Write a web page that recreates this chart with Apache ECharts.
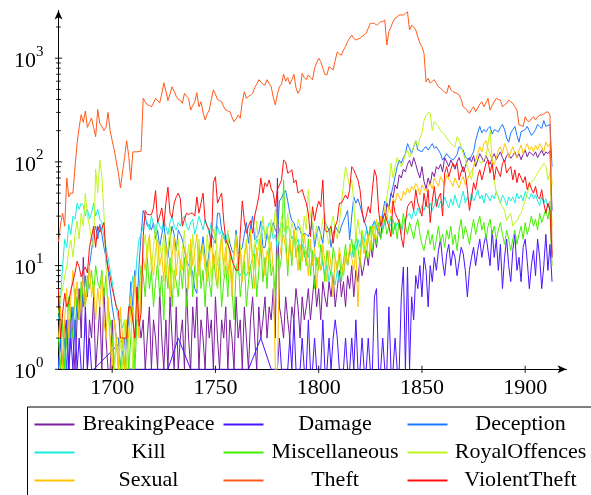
<!DOCTYPE html>
<html><head><meta charset="utf-8">
<script src="https://cdn.jsdelivr.net/npm/echarts@6/dist/echarts.min.js"></script>
<style>html,body{margin:0;padding:0;background:#fff}#c{width:591px;height:495px}</style>
</head><body><div id="c"></div>
<script>
const seriesNames = ['BreakingPeace','Damage','Deception','Kill','Miscellaneous','RoyalOffences','Sexual','Theft','ViolentTheft'];
const seriesColors = ['#7c1ea0','#4a14ff','#1a78ff','#1aeedd','#44ee00','#bef61e','#ffc400','#ff5a1a','#ff1010'];
const startYear = 1674;
const xTickValues = [1700,1750,1800,1850,1900];
const yTickValues = [1,10,100,1000];
const yMinorTickValues = [2,3,4,5,6,7,8,9,20,30,40,50,60,70,80,90,200,300,400,500,600,700,800,900,2000];

const breakingPeace = [
1,2,1,3,2,1,4,2,1,3,
6,2,12,4,1,3,2,5,1,2,
4,1,6,2,1,1,3,1,1,1,
1,1,1,1,1,1,1,2,3,3,
2,3,1,2,4,1,3,2,1,6,
2,1,3,1,5,2,1,4,1,2,
3,1,6,2,1,4,2,5,1,3,
2,1,4,2,3,1,5,2,1,3,
2,4,1,3,2,1,5,2,3,1,
4,2,1,3,5,2,1,4,2,3,
5,2,4,3,6,2,70,4,3,2,
5,3,2,4,3,6,4,2,5,3,
4,6,3,5,8,4,6,3,7,5,
4,7,5,8,4,6,9,5,7,4,
8,6,10,5,9,7,12,8,10,14,
10,16,12,20,15,24,18,30,25,40,
35,50,45,60,55,75,70,85,80,95,
104,90,110,95,80,70,90,65,55,70,
60,80,72,90,85,95,80,110,100,90,
104,95,85,100,110,95,80,90,104,110,
100,115,90,104,120,110,100,115,104,95,
110,120,105,115,125,110,100,115,120,108,
115,125,110,120,105,118,130,112,125,120,
115,125,110,120,130,115,125,120,128,34];

const damage = [
1,2,1,1,3,1,2,1,3,1,
2,1,1,4,1,2,1,1,null,null,
null,null,null,null,null,null,null,null,null,null,
null,null,2,1,null,null,null,1,null,null,
null,1,null,null,null,null,null,1,null,null,
null,null,null,1,null,null,null,null,2,null,
null,null,null,null,1,null,null,null,null,null,
null,1,null,null,null,null,null,null,1,null,
null,null,null,null,1,null,null,null,null,null,
null,null,1,null,null,null,null,null,2,null,
null,null,null,1,null,null,1,2,1,1,
1,1,2,1,3,1,1,1,2,1,
1,3,1,1,2,1,1,1,3,1,
1,2,1,2,3,2,1,1,1,2,
1,1,2,1,3,1,1,2,1,1,
2,1,1,5,6,1,1,2,1,1,
4,1,1,2,1,1,5,9.7,1,9.7,
1,5,3,8,6,10,5,12,9,4,
10,7,12,9,14,18,11,8,13,16,
10,14,12,8,11,15,13,9,5,9,
12,15,10,14,18,12,16,20,14,10,
22,12,18,9,16,6,12,18,10,7,
14,20,9,12,7,15,18,11,6,10,
14,8,18,12,6,10,20,9,16,7];

const deception = [
1,2,1,2,1,3,2,4,2,5,
3,6,4,8,5,10,14,20,24,18,
25,20,15,12,9,6,4,3,2,2,
1,1.5,1,2,3,7,4,9,4,10,
20,34,30,24,25,22,26,18,22,15,
20,25,17,12,18,24,20,14,22,20,
17.7,14,11.3,10,9.7,8.5,6,5.4,15,13,
19,12,9.7,14,20.5,18,16.4,32,32,22,
20,16.4,20.5,16.4,14,13,22,13,14,15,
20,26,16.4,24,30,17.7,19,20.5,27,15,
15,20.5,16.4,22,26,22,20.5,42,45,50,
53,42,32,27,26,22,24,22,19,20.5,
20,19,22,26,15,20,24,20,16.4,27,
24,22,15,20,24,22,20.5,24,27,30,
34,17.7,30,46,40,44,38,32,27,24,
19,22,24,27,24,20.5,26,32,42,40,
37,48,58,72,90,104,97,110,120,150,
135,120,140,160,130,128,125,135,140,130,
140,150,135,140,130,120,104,112,120,112,
108,104,110,118,140,135,130,112,108,104,
115,125,160,190,220,190,205,195,210,220,
185,205,200,195,215,230,205,170,155,190,
205,220,180,155,195,200,205,220,200,180,
190,205,230,220,210,250,220,225,230,90];

const kill = [
3,5,10,18,15,25,20,30,28,40,
35,40,38,30,35,28,32,40,30,35,
28,26,19,15,12,9,7,5,4,3,
3,2.5,3,2,4,5,8,6,12,18,
20,24,28,26,22,30,25,20,27,24,
22,28,24,20,26,30,24,22,26,24,
28,30,24,22,26,28,20,24,30,26,
22,28,24,20,26,22,18,24,20,22,
18,20,16,14,12,10,9,8.5,8,9,
8.5,8,9,10,12,14,18,16,20,24,
20,22,26,24,18,20,14,22,26,24,
20,24,22,18,20,16,18,14,16,12,
14,12,15,11,13,10,12,9,11,8,
10,7,9,8,6.5,9,7,10,8,12,
10,14,12,16,14,18,15,20,17,22,
18,24,20,26,22,24,28,22,26,30,
26,24,28,22,26,24,20,26,28,30,
32,28,34,30,36,32,38,34,40,36,
40,34,38,44,36,42,38,46,40,36,
44,38,48,40,36,44,52,40,46,38,
50,42,46,54,44,48,40,50,46,42,
48,44,52,46,40,48,44,38,46,42,
46,40,50,44,48,42,52,46,44,50,
44,48,42,38,46,40,44,36,42,12];

const miscellaneous = [
2,1,3,1,2,5,3,2,6,4,
3,7,5,4,8,6,9,5,10,7,
6,9,5,8,4,3,2,1,2,1,
1,2,1,3,1,2,4,1,3,6,
10,8,5,12,6,9,4,7,11,5,
8,3,10,6,12,4,9,7,5,10,
6,12,4,8,14,5,10,7,15,6,
9,4,11,7,5,13,8,6,12,4,
7,10,5,14,6,3,9,12,5,8,
11,4,7,10,6,13,5,9,16,7,
12,6,15,8,10,5,14,9,12,67,
20,8,18,10,22,12,16,9,20,14,
10,18,8,14,6,12,9,16,11,7,
14,10,8,15,12,9,13,7,11,16,
10,14,18,12,20,15,10,22,16,12,
18,24,14,20,16,26,18,22,28,20,
24,30,20,26,18,28,22,32,24,20,
26,22,18,24,28,20,16,14,18,22,
16,20,14,18,24,17,20,15,22,18,
24,16,20,14,22,28,18,24,20,16,
22,28,20,25,30,22,26,18,24,28,
20,24,18,22,26,20,16,22,18,14,
18,22,16,20,24,18,26,20,24,30,
24,28,22,32,26,30,35,28,38,10];

const royalOffences = [
3.5,5,6,8,9.7,14,17.7,12,20,27,
18,32,24,50,30,24,18,15,85,50,
104,72,32,9.7,3.5,2,1,1,2,1,
2,1,3,1,2,4,1,2,5,3,
8,14,20,12,18,9,15,25,10,16,
12,20,8,14,24,10,6,15,18,9,
14,22,10,16,8,20,12,6,18,11,
15,9,20,13,7,16,24,10,14,19,
8,12,22,10,6,14,20,11,16,9,
13,18,8,22,12,16,27,14,20,30,
18,24,15,28,20,35,22,16,30,24,
20,32,18,26,22,16,28,24,18,30,
22,54,30,26,18,24,15,20,28,32,
20,16,24,30,22,18,26,40,60,90,
72,58,67,40,17.7,28,20,22,15,18,
12,16,20,24,18,22,30,26,35,46,
60,97,70,90,110,100,90,100,120,130,
110,125,140,160,140,170,190,250,280,300,
295,200,245,230,220,200,190,183,170,160,
150,145,140,175,160,140,120,104,90,78,
67,90,104,108,100,97,105,112,150,200,
104,67,50,45,40,37,34,27,30,32,
24,26,27,30,32,37,42,50,58,64,
67,72,78,84,90,97,92,67,80,24];

const sexual = [
2,4,1,3,6,2,5,9,4,7,
3,5,8,4,6,10,5,7,3,6,
4,8,3,2,5,2,1,3,2,1,
4,2,1,3,2,5,3,8,4,2,
6,12,9,15,20,11,8,14,18,10,
13,7,16,10,5,12,19,8,14,11,
9,15,12,6,18,10,14,20,8,13,
16,10,7,12,18,9,14,6,11,20,
10,15,8,13,5,12,18,9,14,7,
12,16,9,20,11,6,15,10,18,13,
8,14,11,17,9,1,1,12,16,20,
14,10,18,12,22,15,9,16,11,20,
13,8,18,10,15,6,12,9,16,11,
7,14,10,5,12,9,15,11,8,13,
10,16,12,9,14,4,11,18,13,16,
20,14,24,18,28,22,30,26,34,28,
38,32,44,40,50,46,42,52,48,56,
50,58,54,62,57,48,60,55,52,58,
62,55,70,64,58,72,66,60,75,68,
64,58,70,62,56,66,72,60,68,75,
80,90,104,120,140,125,150,160,135,120,
104,95,110,130,140,120,150,135,110,125,
140,120,110,130,145,120,135,150,130,140,
125,145,130,150,140,125,155,140,150,60];

const theft = [
17,25,32,24,70,46,50,50,90,150,
215,285,240,310,215,240,265,215,175,320,
235,220,200,215,300,200,160,130,100,78,
56,80,110,160,115,67,125,125,125,126,
127,410,380,355,350,340,370,410,390,370,
450,580,480,390,450,530,480,430,400,395,
367,458,430,410,316,350,380,465,340,380,
300,254,290,316,400,495,450,400,390,380,
340,316,310,305,270,244,260,283,263,380,
475,410,430,440,458,520,560,620,590,560,
550,620,570,530,420,354,450,530,560,700,
600,650,560,620,700,520,458,500,715,650,
620,690,650,620,800,900,1000,925,800,700,
690,830,800,770,950,1150,1100,1070,1200,1300,
1450,1560,1670,1550,1500,1530,1560,1620,1680,1740,
1950,2170,2170,2170,2080,2150,2250,2250,2340,1340,
1800,2000,2250,2430,2500,2610,2610,2610,2700,2800,
1870,2080,2000,1870,1600,1400,1290,1110,590,640,
573,600,620,570,530,512,490,470,458,550,
500,475,465,458,442,400,340,329,310,294,
320,340,305,330,360,380,340,370,410,316,
350,380,410,400,395,340,355,367,395,380,
367,340,316,227,225,219,273,250,244,260,
273,254,270,283,283,290,300,305,283,13];

const violentTheft = [
6,2,3.5,5.4,4,4.5,5.8,7,8.5,11,
9.7,7.8,9,9.7,8.5,15,19,24,15,24,
21,23,26,13,9.7,7.8,6,5,4,3.7,
2,2,2,2,4,4,3,2,6.2,2.6,
3.5,19,34,31,31,31,36,53,26,30,
36,24,40,57,32,29,40,46,50,44,
24,28,32,31,32,32,30,46,32,40,
50,27,24,22,15,63,72,40,45,50,
27,17.7,16,14,11.3,10,9,9,20,42,
27,20.5,24,27,20.5,30,37,46,70,50,
63,58,67,55,50,37,54,60,67,104,
100,78,80,84,63,67,50,52,54,46,
40,32,19,37,27,35,42,37,67,22,
21,22,24,16.4,24,27,40,40,44,48,
44,54,90,84,75,67,54,34,26,30,
37,32,54,84,72,34,24,28,32,27,
24,19,42,32,29,26,19,15,26,37,
40,42,34,54,40,35,30,50,37,54,
26,42,58,37,45,50,30,78,90,72,
85,97,90,97,67,80,90,78,54,34,
45,63,54,72,84,67,80,97,104,78,
97,67,90,80,72,97,104,78,85,90,
67,84,63,78,70,63,72,54,63,55,
50,58,46,44,54,40,32,40,34,12];

const FONT = "'Liberation Serif', 'DejaVu Serif', serif";
const allSeriesData = [breakingPeace, damage, deception, kill, miscellaneous, royalOffences, sexual, theft, violentTheft];

const lineSeries = seriesNames.map((name, i) => ({
  name: name,
  type: 'line',
  data: allSeriesData[i].map((v, j) => [startYear + j, v == null ? '-' : v]),
  showSymbol: false,
  symbol: 'none',
  connectNulls: true,
  animation: false,
  lineStyle: { width: 1, color: seriesColors[i] },
  itemStyle: { color: seriesColors[i] },
  z: 2
}));

const tickStyle = { stroke: '#000', lineWidth: 0.9 };
const yTickSeries = {
  type: 'custom',
  silent: true,
  animation: false,
  clip: false,
  z: 5,
  data: yTickValues.map(v => [startYear, v, 3.6]).concat(yMinorTickValues.map(v => [startYear, v, 2.3])),
  renderItem: function (params, api) {
    const p = api.coord([api.value(0), api.value(1)]);
    const l = api.value(2);
    return { type: 'line', shape: { x1: p[0] - l, y1: p[1], x2: p[0] + l, y2: p[1] }, style: tickStyle };
  }
};
const xTickSeries = {
  type: 'custom',
  silent: true,
  animation: false,
  clip: false,
  z: 5,
  data: xTickValues.map(v => [v, 1, 3.6]),
  renderItem: function (params, api) {
    const p = api.coord([api.value(0), api.value(1)]);
    const l = api.value(2);
    return { type: 'line', shape: { x1: p[0], y1: p[1] - l, x2: p[0], y2: p[1] + l }, style: tickStyle };
  }
};

const chart = echarts.init(document.getElementById('c'), null, { renderer: 'canvas' });
chart.setOption({
  animation: false,
  backgroundColor: '#fff',
  grid: { left: 58.5, right: 24.5, top: 10.5, bottom: 125.7, containLabel: false },
  xAxis: {
    type: 'value', min: 1674, max: 1920,
    axisLine: { show: true, onZero: false, symbol: ['none', 'arrow'], symbolSize: [6, 9], lineStyle: { color: '#000', width: 1 } },
    axisTick: { show: false },
    splitLine: { show: false },
    axisLabel: { customValues: xTickValues, margin: 8, fontFamily: FONT, fontSize: 22, color: '#000', formatter: v => String(v) }
  },
  yAxis: {
    type: 'log', logBase: 10, min: 1, max: 2884,
    axisLine: { show: true, onZero: false, symbol: ['none', 'arrow'], symbolSize: [6, 9], lineStyle: { color: '#000', width: 1 } },
    axisTick: { show: false },
    splitLine: { show: false },
    minorTick: { show: false },
    axisLabel: {
      customValues: yTickValues, margin: 15, color: '#000',
      formatter: v => '{b|10}{s|' + Math.round(Math.log10(v)) + '}',
      rich: {
        b: { fontFamily: FONT, fontSize: 22, lineHeight: 28, verticalAlign: 'bottom', color: '#000' },
        s: { fontFamily: FONT, fontSize: 15, lineHeight: 15, verticalAlign: 'top', color: '#000' }
      }
    }
  },
  legend: {
    data: seriesNames,
    left: 27.5, top: 407, width: 556,
    orient: 'horizontal',
    itemGap: 6, itemWidth: 40, itemHeight: 2, icon: 'rect',
    padding: [6.5, 12, 14, 7],
    borderColor: '#000', borderWidth: 1, borderRadius: 0,
    backgroundColor: '#fff',
    selectedMode: false,
    formatter: name => '{c' + (seriesNames.indexOf(name) % 3) + '|' + name + '}',
    textStyle: {
      fontFamily: FONT, fontSize: 22, color: '#000',
      rich: {
        c0: { width: 138, align: 'center', fontFamily: FONT, fontSize: 22, lineHeight: 22.8, color: '#000' },
        c1: { width: 133, align: 'center', fontFamily: FONT, fontSize: 22, lineHeight: 22.8, color: '#000' },
        c2: { width: 136, align: 'center', fontFamily: FONT, fontSize: 22, lineHeight: 22.8, color: '#000' }
      }
    }
  },
  series: lineSeries.concat([yTickSeries, xTickSeries])
});
</script>
</body></html>
